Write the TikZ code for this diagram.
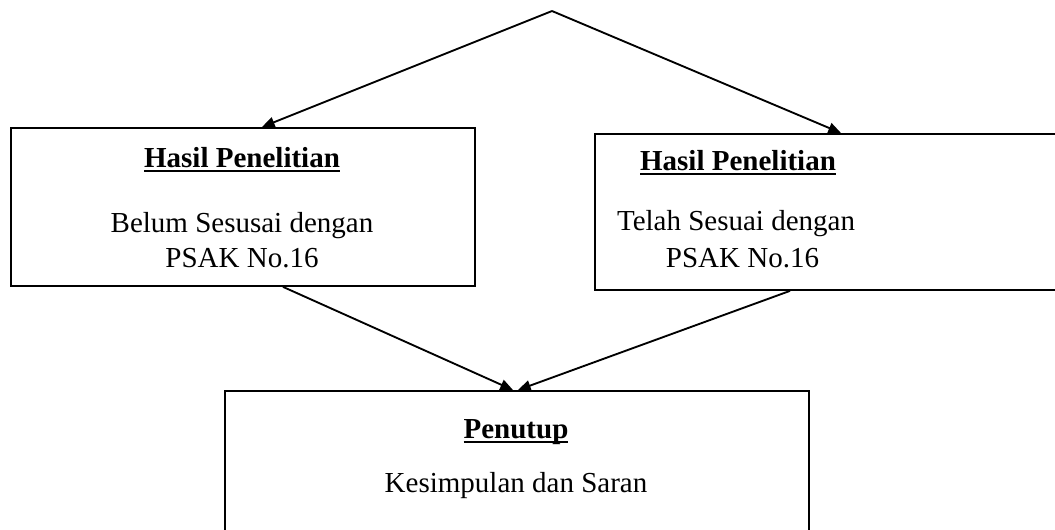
\documentclass[tikz,border=0pt]{standalone}
\usepackage{fontspec}
\setmainfont{Liberation Serif}
\usetikzlibrary{arrows.meta,calc}
\newcommand{\myul}[1]{\setbox0\hbox{#1}\rlap{\rule[-0.17em]{\wd0}{0.07em}}\box0}
\tikzset{
  boxnode/.style={draw=black, line width=1.4pt, rectangle, inner sep=0pt, anchor=north west},
  txt/.style={anchor=base, inner sep=0pt, font=\fontsize{21.75}{26}\selectfont},
  ttl/.style={txt, font=\fontsize{21.75}{26}\selectfont\bfseries},
  arr/.style={line width=1.4pt, -{Triangle[length=9.5pt,width=8pt]}}
}
\begin{document}
\begin{tikzpicture}[x=0.75pt,y=-0.75pt]
\useasboundingbox (0,0) rectangle (1055,529);
\clip (0,0) rectangle (1055,529);
\fill[white] (0,0) rectangle (1055,529);
% boxes
\node[boxnode, minimum width=464*0.75pt, minimum height=158*0.75pt] (L) at (10,127) {};
\node[boxnode, minimum width=470*0.75pt, minimum height=156*0.75pt] (R) at (594,133) {};
\node[boxnode, minimum width=584*0.75pt, minimum height=160*0.75pt] (B) at (224,390) {};
% apex
\coordinate (top) at (552,11);
% texts
\node[ttl] (Lt) at (242,167) {\myul{Hasil Penelitian}};
\node[txt] (L1) at (242,232) {Belum Sesusai dengan};
\node[txt] (L2) at (242,267) {PSAK No.16};
\node[ttl] (Rt) at (738,170) {\myul{Hasil Penelitian}};
\node[txt] (R1) at (736,230) {Telah Sesuai dengan};
\node[txt] (R2) at (742.5,267) {PSAK No.16};
\node[ttl] (Bt) at (516,438) {\myul{Penutup}};
\node[txt] (B1) at (516,492) {Kesimpulan dan Saran};
% connectors
\draw[arr] (top) -- ($(L.north west)+(252,0)$);
\draw[arr] (top) -- ($(R.north west)+(247,0)$);
\draw[arr] ($(L.south west)+(273,0)$) -- ($(B.north west)+(289,0)$);
\draw[arr] ($(R.south west)+(196,0)$) -- ($(B.north west)+(294,0)$);
\end{tikzpicture}
\end{document}
